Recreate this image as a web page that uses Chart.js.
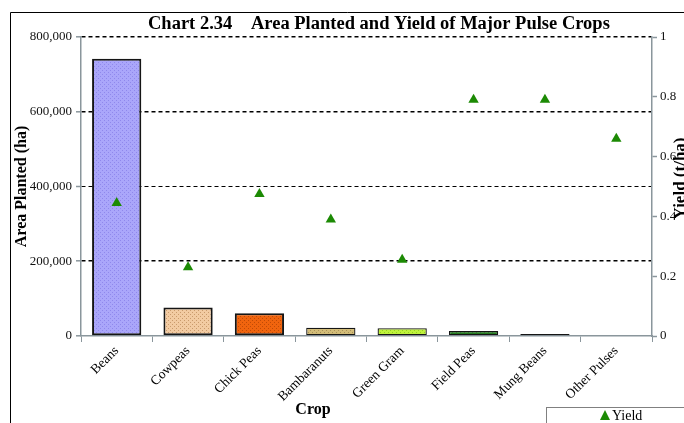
<!DOCTYPE html>
<html>
<head>
<meta charset="utf-8">
<script src="https://cdn.jsdelivr.net/npm/chart.js@4.4.1/dist/chart.umd.min.js"></script>
<style>
  html, body { margin: 0; padding: 0; background: #fff; }
  #wrap { width: 684px; height: 423px; position: relative; }
</style>
</head>
<body>
<div id="wrap"><canvas id="chart234"></canvas></div>
<script>
// data
var crops = ["Beans", "Cowpeas", "Chick Peas", "Bambaranuts", "Green Gram", "Field Peas", "Mung Beans", "Other Pulses"];
var areaPlanted = [742000, 76000, 61000, 22000, 21000, 13500, 5500, 0];
var yieldTha = [0.445, 0.23, 0.475, 0.39, 0.255, 0.79, 0.79, 0.66];
var areaTicks = [0, 200000, 400000, 600000, 800000];
var yieldTicks = [0, 0.2, 0.4, 0.6, 0.8, 1];

var SERIF = "'Liberation Serif', 'Times New Roman', serif";
var AXIS_GREY = "#8a969c";
var GREEN = "#1c8a04";

// small dotted fills like the original
function dots(base, dot) {
    var c = document.createElement("canvas");
    c.width = 4; c.height = 4;
    var g = c.getContext("2d");
    g.fillStyle = base;
    g.fillRect(0, 0, 4, 4);
    g.fillStyle = dot;
    g.fillRect(0, 0, 1, 1);
    g.fillRect(2, 2, 1, 1);
    return g.createPattern(c, "repeat");
}

var barFills = [
    dots("#aaa6fa", "#8f88ec"),
    dots("#f2cba2", "#c99a6c"),
    dots("#f0640e", "#c04a06"),
    dots("#d2bc78", "#a89058"),
    dots("#bff23c", "#94d020"),
    dots("#237a1e", "#134e10"),
    dots("#222222", "#111111"),
    dots("#ffffff", "#ffffff")
];

var extras = {
    id: "extras",
    afterDraw: function (chart) {
        var ctx = chart.ctx;
        var a = chart.chartArea;
        ctx.save();
        // outer frame (top + left)
        ctx.strokeStyle = "#000";
        ctx.lineWidth = 1;
        ctx.beginPath();
        ctx.moveTo(10.5, 423);
        ctx.lineTo(10.5, 12.5);
        ctx.lineTo(684, 12.5);
        ctx.stroke();

        // title
        ctx.fillStyle = "#000";
        ctx.font = "bold 18.5px " + SERIF;
        ctx.textBaseline = "middle";
        ctx.textAlign = "left";
        ctx.fillText("Chart 2.34", 148, 24);
        ctx.fillText("Area Planted and Yield of Major Pulse Crops", 251, 24);

        // axis titles
        ctx.font = "bold 16px " + SERIF;
        ctx.textAlign = "center";
        ctx.fillText("Crop", 313, 410);

        var cy = (a.top + a.bottom) / 2;
        ctx.save();
        ctx.translate(22, cy);
        ctx.rotate(-Math.PI / 2);
        ctx.fillText("Area Planted (ha)", 0, 0);
        ctx.restore();

        ctx.save();
        ctx.font = "bold 17px " + SERIF;
        ctx.translate(681, cy - 8);
        ctx.rotate(-Math.PI / 2);
        ctx.fillText("Yield (t/ha)", 0, 0);
        ctx.restore();

        // legend box
        ctx.strokeStyle = "#808080";
        ctx.lineWidth = 1;
        ctx.strokeRect(546.5, 407.5, 200, 40);
        ctx.fillStyle = GREEN;
        ctx.beginPath();
        ctx.moveTo(605, 410);
        ctx.lineTo(610, 420);
        ctx.lineTo(600, 420);
        ctx.closePath();
        ctx.fill();
        ctx.fillStyle = "#000";
        ctx.font = "14px " + SERIF;
        ctx.textAlign = "left";
        ctx.fillText("Yield", 612, 416);
        ctx.restore();
    }
};

var ctx234 = document.getElementById("chart234").getContext("2d");
var chart234 = new Chart(ctx234, {
    type: "bar",
    data: {
        labels: crops,
        datasets: [{
                type: "line",
                label: "Yield",
                data: yieldTha,
                yAxisID: "y2",
                showLine: false,
                pointStyle: "triangle",
                pointRadius: 6,
                pointBackgroundColor: GREEN,
                pointBorderColor: GREEN,
                pointBorderWidth: 0,
                order: 0
            },
            {
                label: "Area Planted",
                data: areaPlanted,
                yAxisID: "y",
                backgroundColor: barFills,
                borderColor: "#151515",
                borderWidth: function (c) { return c.raw === 0 ? 0 : (c.raw > 30000 ? 2 : 1.3); },
                borderSkipped: false,
                barPercentage: 0.69,
                categoryPercentage: 1,
                order: 1
            }
        ]
    },
    options: {
        responsive: true,
        maintainAspectRatio: false,
        animation: false,
        events: [],
        layout: { padding: { top: 37, left: 0, right: 0, bottom: 0 } },
        plugins: {
            legend: { display: false },
            tooltip: { enabled: false },
            title: { display: false }
        },
        scales: {
            x: {
                offset: true,
                grid: {
                    offset: true,
                    drawOnChartArea: false,
                    tickLength: 6,
                    tickColor: AXIS_GREY
                },
                border: { color: AXIS_GREY, width: 1.5 },
                ticks: {
                    color: "#000",
                    font: { family: SERIF, size: 13.5 },
                    minRotation: 45,
                    maxRotation: 45,
                    padding: 1,
                    autoSkip: false
                },
                afterFit: function (s) { s.height = 87; }
            },
            y: {
                position: "left",
                min: areaTicks[0],
                max: areaTicks[areaTicks.length - 1],
                afterBuildTicks: function (s) { s.ticks = areaTicks.map(function (v) { return { value: v }; }); },
                grid: {
                    color: function (c) { return c.tick && c.tick.value === 0 ? "rgba(0,0,0,0)" : "#000"; },
                    lineWidth: function (c) { return c.tick && c.tick.value === 400000 ? 1 : 1.6; },
                    tickLength: 5,
                    tickColor: AXIS_GREY,
                    tickBorderDash: [],
                    tickWidth: 1.5
                },
                border: { color: AXIS_GREY, width: 1.5, dash: [4, 3] },
                ticks: {
                    color: "#111",
                    font: { family: SERIF, size: 13 },
                    padding: 4,
                    callback: function (v) { return Number(v).toLocaleString("en-US"); }
                },
                afterFit: function (s) { s.width = 81; }
            },
            y2: {
                position: "right",
                min: yieldTicks[0],
                max: yieldTicks[yieldTicks.length - 1],
                afterBuildTicks: function (s) { s.ticks = yieldTicks.map(function (v) { return { value: v }; }); },
                grid: {
                    drawOnChartArea: false,
                    tickLength: 5,
                    tickColor: AXIS_GREY,
                    tickWidth: 1.5
                },
                border: { color: AXIS_GREY, width: 1.5 },
                ticks: {
                    color: "#111",
                    font: { family: SERIF, size: 13 },
                    padding: 3,
                    callback: function (v) { return (v === 0 || v === 1) ? String(v) : Number(v).toFixed(1); }
                },
                afterFit: function (s) { s.width = 32; }
            }
        }
    },
    plugins: [extras]
});
</script>
</body>
</html>
